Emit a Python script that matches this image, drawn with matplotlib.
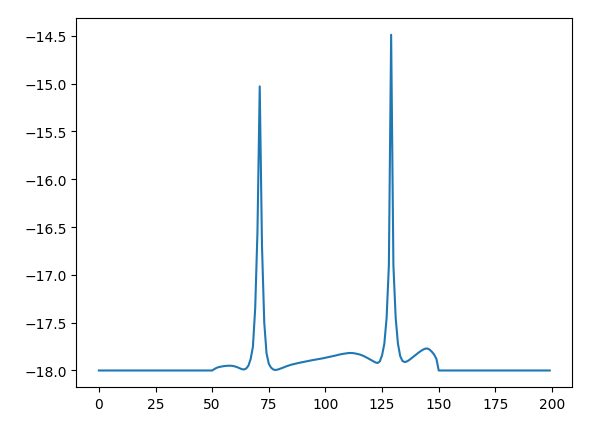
import matplotlib
matplotlib.use("Agg")
import matplotlib.pyplot as plt

flat_start = [-18.0] * 51   # x = 0..50
middle = [
    -17.985, -17.972, -17.964, -17.959, -17.955, -17.952, -17.950, -17.950, -17.952, -17.957,  # 51-60
    -17.965, -17.975, -17.985, -17.990, -17.980, -17.950, -17.880, -17.750, -17.350, -16.550,  # 61-70
    -15.030, -16.700, -17.500, -17.820, -17.930, -17.970, -17.990, -17.995, -17.990, -17.982,  # 71-80
    -17.973, -17.963, -17.954, -17.946, -17.939, -17.933, -17.927, -17.922, -17.917, -17.912,  # 81-90
    -17.907, -17.902, -17.897, -17.893, -17.889, -17.885, -17.880, -17.876, -17.872, -17.867,  # 91-100
    -17.862, -17.857, -17.852, -17.846, -17.840, -17.834, -17.829, -17.825, -17.821, -17.818,  # 101-110
    -17.817, -17.818, -17.821, -17.826, -17.832, -17.840, -17.850, -17.862, -17.875, -17.888,  # 111-120
    -17.902, -17.915, -17.922, -17.905, -17.840, -17.720, -17.450, -16.900, -14.490, -16.900,  # 121-130
    -17.450, -17.720, -17.850, -17.900, -17.912, -17.905, -17.890, -17.872, -17.853, -17.834,  # 131-140
    -17.815, -17.798, -17.783, -17.772, -17.770, -17.782, -17.805, -17.835, -17.880,           # 141-149
]
flat_end = [-18.0] * 50     # x = 150..199

y_values = flat_start + middle + flat_end
x_values = list(range(len(y_values)))

fig = plt.figure(figsize=(5.99, 4.35), dpi=100)
ax = fig.add_axes([0.1274, 0.1074, 0.828, 0.849])
ax.plot(x_values, y_values, color="#1f77b4", linewidth=1.5)
fig.savefig("out.png", dpi=100)
